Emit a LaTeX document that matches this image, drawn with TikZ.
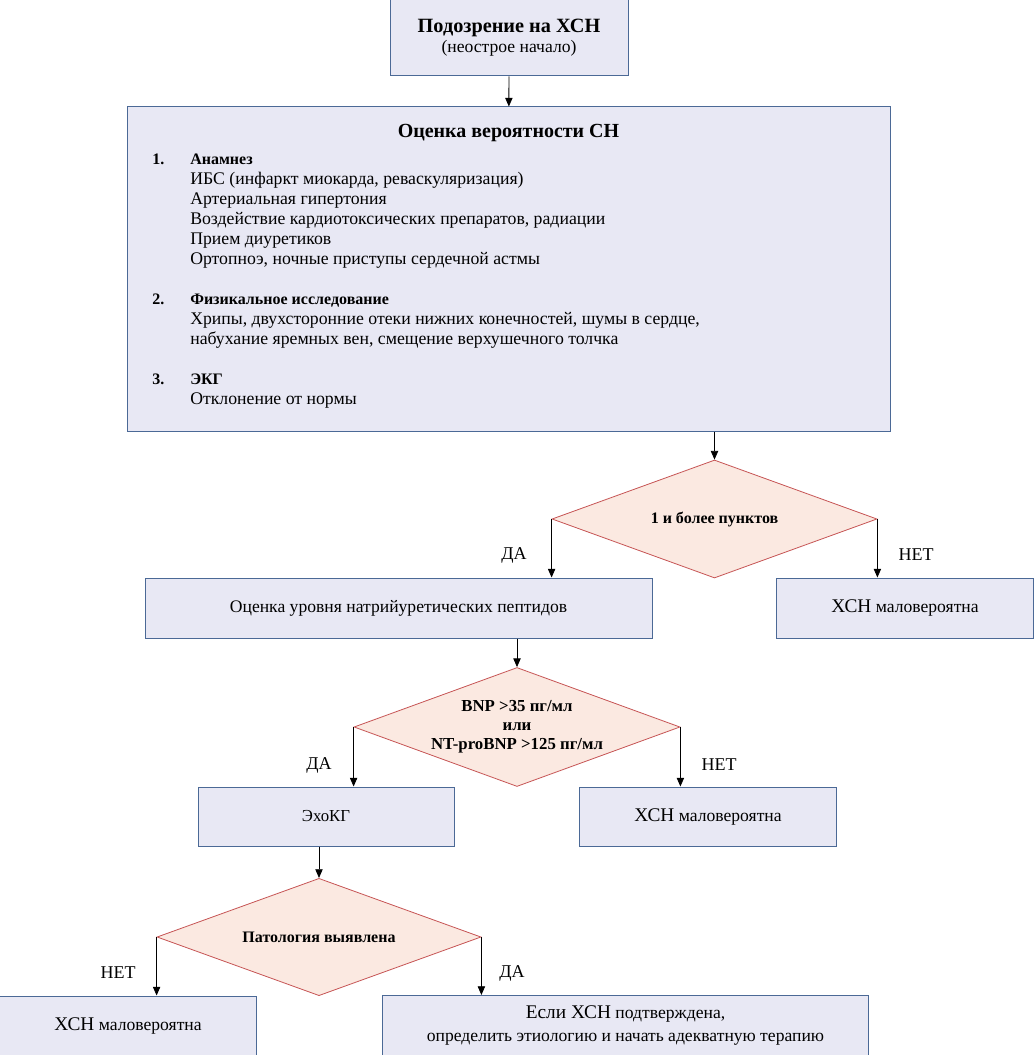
\documentclass[tikz,border=0pt]{standalone}
\usepackage{fontspec}
\setmainfont{Liberation Serif}
\usetikzlibrary{arrows.meta,shapes.geometric}

\definecolor{boxfill}{RGB}{232,232,244}
\definecolor{boxline}{RGB}{75,105,150}
\definecolor{decfill}{RGB}{251,233,225}
\definecolor{decline}{RGB}{198,84,84}

\newcommand{\fsz}[1]{\fontsize{#1}{#1}\selectfont\baselineskip=1.2\baselineskip}

\begin{document}
\begin{tikzpicture}[
    x=0.75pt, y=-0.75pt,
    every node/.style={font=\fsz{13.2}},
    box/.style={draw=boxline, fill=boxfill, line width=0.75pt, inner sep=0pt, align=center},
    decision/.style={diamond, aspect=2.75, draw=decline, fill=decfill, line width=0.6pt,
                     inner sep=0pt, align=center, font=\bfseries\fsz{12}},
    arr/.style={-{Triangle[length=6.5pt,width=5.5pt]}, line width=0.6pt},
    lbl/.style={font=\fsz{13.5}},
    line/.style={anchor=mid west, inner sep=0pt, font=\fsz{13.3}},
    head/.style={anchor=mid west, inner sep=0pt, font=\bfseries\fsz{12}},
]
\useasboundingbox (0,0) rectangle (1033,1055);

% top
\node[box, minimum width=178.5pt, minimum height=57pt] (start) at (509,38)
  {{\bfseries\fsz{15.2}Подозрение на ХСН}\\[-1pt]{\fsz{13.2}(неострое начало)}};
\node[box, minimum width=572.25pt, minimum height=243pt] (eval) at (508.5,269) {};

% text of the evaluation box
\node[font=\bfseries\fsz{15}] (evaltitle) at (508.5,133) {Оценка вероятности СН};
\node[head] (n1) at (152,161) {1.};
\node[head] (h1) at (190,161) {Анамнез};
\foreach \y/\t in {181/{ИБС (инфаркт миокарда, реваскуляризация)},
                   201/{Артериальная гипертония},
                   221/{Воздействие кардиотоксических препаратов, радиации},
                   241/{Прием диуретиков},
                   261/{Ортопноэ, ночные приступы сердечной астмы}}
  \node[line] at (190,\y) {\t};
\node[head] (n2) at (152,301) {2.};
\node[head] (h2) at (190,301) {Физикальное исследование};
\node[line] at (190,321) {Хрипы, двухсторонние отеки нижних конечностей, шумы в сердце,};
\node[line] at (190,341) {набухание яремных вен, смещение верхушечного толчка};
\node[head] (n3) at (152,381) {3.};
\node[head] (h3) at (190,381) {ЭКГ};
\node[line] at (190,401) {Отклонение от нормы};

% first decision
\node[decision, minimum width=243.75pt, minimum height=88.5pt] (dec1) at (714.5,519)
  {1 и более пунктов};
\node[box, minimum width=380.25pt, minimum height=45pt] (bnp) at (398.5,608)
  {Оценка уровня натрийуретических пептидов};
\node[box, minimum width=193pt, minimum height=45pt] (unlikely1) at (905,608)
  {{\fsz{14.5}ХСН} маловероятна};

% second decision
\node[decision, minimum width=244.5pt, minimum height=89.25pt, font=\bfseries\fsz{12.6}] (dec2) at (517,727)
  {BNP >35 пг/мл\\[-1pt]или\\[-1pt]NT-proBNP >125 пг/мл};
\node[box, minimum width=192pt, minimum height=44.25pt] (echo) at (326,816.5)
  {{\fsz{12.6}ЭхоКГ}};
\node[box, minimum width=192.75pt, minimum height=44.25pt] (unlikely2) at (708,816.5)
  {{\fsz{14.5}ХСН} маловероятна};

% third decision
\node[decision, minimum width=243pt, minimum height=88pt] (dec3) at (319,937)
  {Патология выявлена};
\node[box, minimum width=193pt, minimum height=45pt] (unlikely3) at (128,1026)
  {{\fsz{14.5}ХСН} маловероятна};
\node[box, minimum width=365pt, minimum height=45pt] (therapy) at (625.5,1025.5)
  {{\fsz{14.5}Если ХСН} подтверждена,\\[1pt]определить этиологию и начать адекватную терапию};

% connectors
\draw[arr] (start) -- (eval);
\draw[arr] (dec1.north |- eval.south) -- (dec1.north);
\draw[arr] (dec1.west) -- (dec1.west |- bnp.north);
\draw[arr] (dec1.east) -- (dec1.east |- unlikely1.north);
\draw[arr] (dec2.north |- bnp.south) -- (dec2.north);
\draw[arr] (dec2.west) -- (dec2.west |- echo.north);
\draw[arr] (dec2.east) -- (dec2.east |- unlikely2.north);
\draw[arr] (dec3.north |- echo.south) -- (dec3.north);
\draw[arr] (dec3.west) -- (dec3.west |- unlikely3.north);
\draw[arr] (dec3.east) -- (dec3.east |- therapy.north);

% branch labels
\node[lbl] (yes1) at (514,555) {ДА};
\node[lbl] (no1) at (916,555) {НЕТ};
\node[lbl] (yes2) at (319,765) {ДА};
\node[lbl] (no2) at (719,765) {НЕТ};
\node[lbl] (no3) at (118,973) {НЕТ};
\node[lbl] (yes3) at (512,973) {ДА};
\end{tikzpicture}
\end{document}
